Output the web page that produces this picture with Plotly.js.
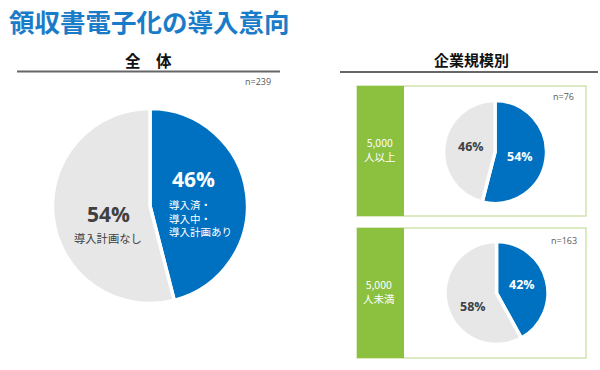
<!DOCTYPE html>
<html>
<head>
<meta charset="utf-8">
<script src="https://cdn.plot.ly/plotly-3.0.1.min.js"></script>
<style>
html,body{margin:0;padding:0;background:#fff;}
#chart{width:600px;height:370px;}
</style>
</head>
<body>
<div id="chart"></div>
<script>
// ---- data ----
const pageTitle = '領収書電子化の導入意向';
const overallTitle = '全　体';
const segmentTitle = '企業規模別';
const sliceNames = ['導入済・導入中・導入計画あり', '導入計画なし'];
const overallValues = [46, 54];
const overallN = 239;
const overallBlueLines = ['導入済・', '導入中・', '導入計画あり'];
const overallGreyLabel = '導入計画なし';
const segmentNames = [['5,000', '人以上'], ['5,000', '人未満']];
const segmentValues = [[54, 46], [42, 58]];
const segmentN = [76, 163];

// ---- style ----
const W = 600, H = 370;
const BLUE = '#0070c0', GREY = '#e7e7e7', GREEN = '#8cc03f', GREEN_BORDER = '#cfe4b0';
const JP = '"Noto Sans CJK JP", "Noto Sans", sans-serif';
const NUM = '"Open Sans", "Noto Sans", sans-serif';
const px = x => x / W;
const py = y => 1 - y / H;

function pieTrace(values, cx, cy, r) {
  return {
    type: 'pie', values: values, labels: sliceNames, sort: false,
    direction: 'clockwise', rotation: 0, textinfo: 'none', hoverinfo: 'skip',
    marker: {colors: [BLUE, GREY], line: {color: '#ffffff', width: 3.5}},
    domain: {x: [px(cx - r), px(cx + r)], y: [py(cy + r), py(cy - r)]},
    showlegend: false
  };
}

const data = [
  pieTrace(overallValues, 150, 206, 97.5),
  pieTrace(segmentValues[0], 495, 152, 51.5),
  pieTrace(segmentValues[1], 496.5, 293, 51.5)
];

function ann(text, x, y, opts) {
  return Object.assign({
    text: text, x: px(x), y: py(y), xref: 'paper', yref: 'paper',
    showarrow: false, xanchor: 'center', yanchor: 'middle',
    font: {family: JP, size: 11, color: '#404040'}
  }, opts || {});
}

const annotations = [
  ann(pageTitle, 7, 21, {xanchor: 'left', font: {family: JP, size: 25.5, color: '#1a7cc8', weight: 'bold'}}),
  ann(overallTitle, 148, 60, {font: {family: JP, size: 15.5, color: '#111111', weight: 'bold'}}),
  ann(segmentTitle, 471, 59, {font: {family: JP, size: 15, color: '#111111', weight: 'bold'}}),
  ann('n=' + overallN, 273, 82, {xanchor: 'right', font: {family: NUM, size: 9, color: '#595959'}}),
  ann(overallValues[0] + '%', 194, 179, {font: {family: NUM, size: 21, color: '#ffffff', weight: 'bold'}}),
  ann(overallValues[1] + '%', 108, 214, {font: {family: NUM, size: 21, color: '#404040', weight: 'bold'}}),
  ann(overallGreyLabel, 108, 238, {font: {family: JP, size: 11.3, color: '#404040'}}),
  ann(overallBlueLines.join('<br>'), 167, 218, {xanchor: 'left', align: 'left', font: {family: JP, size: 10.5, color: '#ffffff'}}),
  ann('n=' + segmentN[0], 576, 96, {xanchor: 'right', font: {family: NUM, size: 9, color: '#595959'}}),
  ann('n=' + segmentN[1], 579, 240, {xanchor: 'right', font: {family: NUM, size: 9, color: '#595959'}}),
  ann(segmentValues[0][0] + '%', 520, 156, {font: {family: NUM, size: 12.5, color: '#ffffff', weight: 'bold'}}),
  ann(segmentValues[0][1] + '%', 471, 146, {font: {family: NUM, size: 12.5, color: '#404040', weight: 'bold'}}),
  ann(segmentValues[1][0] + '%', 522, 284, {font: {family: NUM, size: 12.5, color: '#ffffff', weight: 'bold'}}),
  ann(segmentValues[1][1] + '%', 473, 306, {font: {family: NUM, size: 12.5, color: '#404040', weight: 'bold'}}),
  ann(segmentNames[0].join('<br>'), 380, 149.5, {font: {family: JP, size: 10.5, color: '#ffffff'}}),
  ann(segmentNames[1].join('<br>'), 379, 291.5, {font: {family: JP, size: 10.5, color: '#ffffff'}})
];

const shapes = [
  {type: 'line', xref: 'paper', yref: 'paper', x0: px(17), x1: px(280), y0: py(71.5), y1: py(71.5), line: {color: '#666666', width: 2}},
  {type: 'line', xref: 'paper', yref: 'paper', x0: px(340), x1: px(598), y0: py(72), y1: py(72), line: {color: '#666666', width: 2}},
  {type: 'rect', xref: 'paper', yref: 'paper', x0: px(357), x1: px(586), y0: py(86), y1: py(216), line: {color: GREEN_BORDER, width: 1.5}, fillcolor: 'rgba(0,0,0,0)', layer: 'below'},
  {type: 'rect', xref: 'paper', yref: 'paper', x0: px(357), x1: px(404), y0: py(86), y1: py(216), line: {width: 0}, fillcolor: GREEN, layer: 'below'},
  {type: 'rect', xref: 'paper', yref: 'paper', x0: px(357), x1: px(586), y0: py(228), y1: py(358), line: {color: GREEN_BORDER, width: 1.5}, fillcolor: 'rgba(0,0,0,0)', layer: 'below'},
  {type: 'rect', xref: 'paper', yref: 'paper', x0: px(357), x1: px(404), y0: py(228), y1: py(358), line: {width: 0}, fillcolor: GREEN, layer: 'below'}
];

const layout = {
  width: W, height: H,
  margin: {l: 0, r: 0, t: 0, b: 0},
  paper_bgcolor: '#ffffff', plot_bgcolor: '#ffffff',
  showlegend: false,
  annotations: annotations,
  shapes: shapes
};

Plotly.newPlot('chart', data, layout, {displayModeBar: false, staticPlot: true});
</script>
</body>
</html>
